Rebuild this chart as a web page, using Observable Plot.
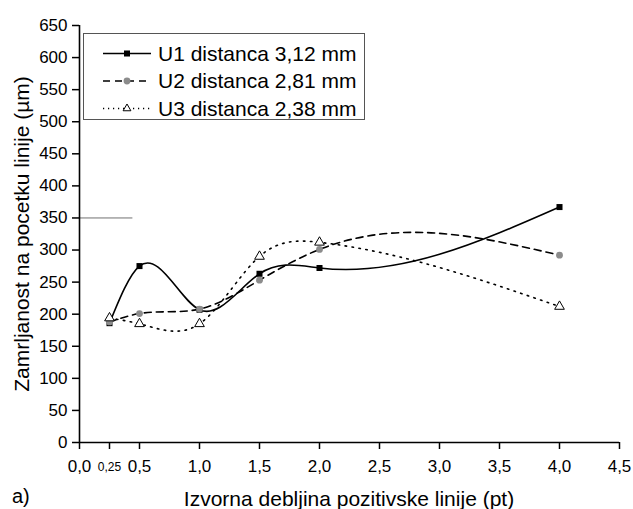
<!DOCTYPE html>
<html><head><meta charset="utf-8">
<script src="https://cdn.jsdelivr.net/npm/d3@7"></script>
<script src="https://cdn.jsdelivr.net/npm/@observablehq/plot@0.6"></script>
<style>body{margin:0;background:#fff} #chart{width:633px;height:509px}</style>
</head><body><div id="chart"></div>
<script>
// ---- data ----
const xValues = [0.25, 0.5, 1.0, 1.5, 2.0, 4.0];
const u1 = [186, 275, 207, 263, 272, 367];
const u2 = [188, 201, 208, 253, 301, 292];
const u3 = [194, 185, 185, 290, 312, 212];
const seriesNames = ["U1 distanca 3,12 mm", "U2 distanca 2,81 mm", "U3 distanca 2,38 mm"];
const xTicks = [0, 0.5, 1, 1.5, 2, 2.5, 3, 3.5, 4, 4.5];
const xMinorTicks = [0.25];
const yTicks = [0, 50, 100, 150, 200, 250, 300, 350, 400, 450, 500, 550, 600, 650];
const strayLine = [{y: 350, x1: 0, x2: 0.445}];
const xTitle = "Izvorna debljina pozitivske linije (pt)";
const yTitle = "Zamrljanost na pocetku linije (µm)";
const panelLabel = "a)";

const FONT = "'Liberation Sans', Arial, sans-serif";
const rows = (ys) => xValues.map((x, i) => ({x, y: ys[i]}));
const d1 = rows(u1), d2 = rows(u2), d3r = rows(u3);
const fmt = d => d.toFixed(1).replace(".", ",");

// natural cubic spline y(x) (non-parametric), drawn as exact Bezier segments
function NaturalX(context) { this._context = context; }
NaturalX.prototype = {
  areaStart() { this._line = 0; },
  areaEnd() { this._line = NaN; },
  lineStart() { this._x = []; this._y = []; },
  point(x, y) { this._x.push(+x); this._y.push(+y); },
  lineEnd() {
    const x = this._x, y = this._y, n = x.length, ctx = this._context;
    if (n) {
      if (this._line) ctx.lineTo(x[0], y[0]); else ctx.moveTo(x[0], y[0]);
      if (n === 2) ctx.lineTo(x[1], y[1]);
      else if (n > 2) {
        const h = [];
        for (let i = 0; i < n - 1; i++) h.push(x[i + 1] - x[i]);
        const a = [], b = [], c = [], r = [];
        for (let i = 1; i < n - 1; i++) {
          a.push(h[i - 1]); b.push(2 * (h[i - 1] + h[i])); c.push(h[i]);
          r.push(6 * ((y[i + 1] - y[i]) / h[i] - (y[i] - y[i - 1]) / h[i - 1]));
        }
        const m = r.length;
        for (let i = 1; i < m; i++) { const w = a[i] / b[i - 1]; b[i] -= w * c[i - 1]; r[i] -= w * r[i - 1]; }
        const sol = new Array(m);
        sol[m - 1] = r[m - 1] / b[m - 1];
        for (let i = m - 2; i >= 0; i--) sol[i] = (r[i] - c[i] * sol[i + 1]) / b[i];
        const M = new Array(n).fill(0);
        for (let i = 0; i < m; i++) M[i + 1] = sol[i];
        for (let i = 0; i < n - 1; i++) {
          const hi = h[i], s = (y[i + 1] - y[i]) / hi;
          const d0 = s - hi * (2 * M[i] + M[i + 1]) / 6;
          const dn = s + hi * (M[i] + 2 * M[i + 1]) / 6;
          ctx.bezierCurveTo(x[i] + hi / 3, y[i] + d0 * hi / 3, x[i + 1] - hi / 3, y[i + 1] - dn * hi / 3, x[i + 1], y[i + 1]);
        }
      }
    }
    if (this._line || (this._line !== 0 && n === 1)) ctx.closePath();
    this._line = 1 - this._line;
    this._x = this._y = null;
  }
};
const curveNaturalX = ctx => new NaturalX(ctx);

const W = 633, H = 509;
const plot = Plot.plot({
  width: W, height: H,
  marginLeft: 79, marginRight: 14, marginTop: 25, marginBottom: 67,
  style: {fontFamily: FONT, background: "#fff", color: "#000"},
  x: {domain: [0, 4.5]},
  y: {domain: [0, 650]},
  marks: [
    Plot.axisY({ticks: yTicks, tickSize: 7, tickPadding: 5, fontSize: 17, label: null, strokeWidth: 1.5}),
    Plot.axisX({ticks: xTicks, tickFormat: fmt, tickSize: 7, tickPadding: 10, fontSize: 17, label: null, strokeWidth: 1.5}),
    Plot.axisX({ticks: xMinorTicks, tickFormat: d => d.toString().replace(".", ","), tickSize: 7, tickPadding: 13, fontSize: 12, label: null, strokeWidth: 1.5}),
    Plot.ruleY(strayLine, {y: "y", x1: "x1", x2: "x2", stroke: "#707070", strokeWidth: 1}),
    Plot.ruleX([0], {stroke: "#000", strokeWidth: 1.6}),
    Plot.ruleY([0], {stroke: "#000", strokeWidth: 1.6}),
    Plot.line(d1, {x: "x", y: "y", curve: curveNaturalX, stroke: "#000", strokeWidth: 1.6}),
    Plot.line(d2, {x: "x", y: "y", curve: curveNaturalX, stroke: "#000", strokeWidth: 1.6, strokeDasharray: "7,5"}),
    Plot.line(d3r, {x: "x", y: "y", curve: curveNaturalX, stroke: "#000", strokeWidth: 1.6, strokeDasharray: "1.5,5.5"}),
    Plot.dot(d1, {x: "x", y: "y", symbol: "square", r: 3.4, fill: "#000", stroke: "none"}),
    Plot.dot(d2, {x: "x", y: "y", symbol: "circle", r: 3.4, fill: "#8c8c8c", stroke: "none"}),
    Plot.dot(d3r, {x: "x", y: "y", symbol: "triangle", r: 3.6, fill: "#fff", stroke: "#000", strokeWidth: 1})
  ]
});
document.getElementById("chart").appendChild(plot);

// ---- titles & legend ----
const svg = d3.select(plot);
svg.append("text").attr("x", 349).attr("y", 506).attr("text-anchor", "middle")
  .attr("font-family", FONT).attr("font-size", 21).attr("fill", "#000").text(xTitle);
svg.append("text").attr("transform", "translate(29,234) rotate(-90)").attr("text-anchor", "middle")
  .attr("font-family", FONT).attr("font-size", 21).attr("fill", "#000").text(yTitle);
svg.append("text").attr("x", 12).attr("y", 503).attr("text-anchor", "start")
  .attr("font-family", FONT).attr("font-size", 20).attr("fill", "#000").text(panelLabel);

const lg = svg.append("g");
lg.append("rect").attr("x", 83.5).attr("y", 33.5).attr("width", 281).attr("height", 86)
  .attr("fill", "#fff").attr("stroke", "#555").attr("stroke-width", 1);
const styles = [
  {dash: null, sym: d3.symbolSquare, fill: "#000", stroke: "none", r: 3.4},
  {dash: "7,5", sym: d3.symbolCircle, fill: "#8c8c8c", stroke: "none", r: 3.4},
  {dash: "1.2,3.8", sym: d3.symbolTriangle, fill: "#fff", stroke: "#000", r: 2.9}
];
const rowY = [53.5, 81, 108.5];
seriesNames.forEach((name, i) => {
  const s = styles[i], y = rowY[i];
  const ln = lg.append("line").attr("x1", 103).attr("x2", 151).attr("y1", y).attr("y2", y)
    .attr("stroke", "#000").attr("stroke-width", 1.6);
  if (s.dash) ln.attr("stroke-dasharray", s.dash);
  lg.append("path").attr("d", d3.symbol(s.sym, Math.PI * s.r * s.r)())
    .attr("transform", `translate(127,${y})`).attr("fill", s.fill).attr("stroke", s.stroke);
  lg.append("text").attr("x", 158).attr("y", y).attr("dy", "0.35em").attr("text-anchor", "start")
    .attr("font-family", FONT).attr("font-size", 21).attr("fill", "#000").text(name);
});
</script>
</body></html>
